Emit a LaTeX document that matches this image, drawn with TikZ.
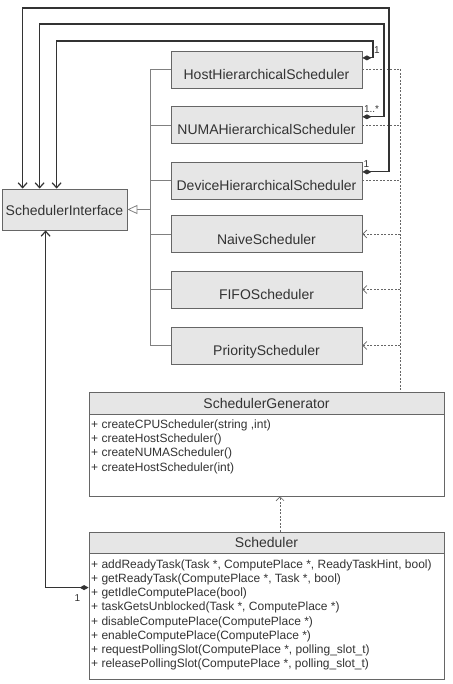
\documentclass[tikz,border=0pt]{standalone}
\usepackage{fontspec}
\setmainfont{Liberation Sans}
\usetikzlibrary{arrows.meta,calc}
\definecolor{boxfill}{HTML}{E6E6E6}
\definecolor{boxline}{HTML}{666666}
\definecolor{txt}{HTML}{333333}
\definecolor{assoc}{HTML}{333333}
\definecolor{treeline}{HTML}{808080}
\definecolor{dotline}{HTML}{666666}
\begin{document}
\begin{tikzpicture}[x=1pt,y=-1pt,
  every node/.style={text=txt},
  cls/.style={draw=boxline, fill=boxfill, line width=0.8pt, minimum width=191pt, minimum height=37pt,
    inner sep=0pt, text height=20pt, text depth=0pt, font=\fontsize{14}{16}\selectfont},
  hdr/.style={draw=boxline, fill=boxfill, line width=0.8pt, minimum width=355pt, inner sep=0pt,
    font=\fontsize{14}{16}\selectfont},
  body/.style={draw=boxline, fill=white, line width=0.8pt, minimum width=355pt, inner sep=0pt},
  meth/.style={anchor=west, inner sep=0pt, text height=9pt, text depth=3pt, font=\fontsize{12}{14}\selectfont},
  mult/.style={inner sep=0pt, font=\fontsize{10}{12}\selectfont},
  assocline/.style={draw=assoc, line width=1.2pt},
  treel/.style={draw=treeline, line width=0.8pt},
  dotl/.style={draw=dotline, line width=0.6pt, dash pattern=on 2pt off 1.5pt},
  dia/.style={{Diamond[length=9pt,width=5pt]}-{Straight Barb[length=5pt,width=9pt]}},
  openhead/.style={-{Straight Barb[length=4pt,width=8pt]}},
  gen/.style={-{Triangle[open,fill=white,length=10pt,width=9pt]}}
]
\useasboundingbox (0,0) rectangle (452,684);

% interface
\node[draw=boxline, fill=boxfill, line width=0.8pt, minimum width=125pt, minimum height=41pt, inner sep=0pt,
  font=\fontsize{14}{16}\selectfont, text height=13pt, text depth=0pt] (si) at (64.5,209.5) {SchedulerInterface};

% implementations
\node[cls] (host)   at (266.5,69.5)  {HostHierarchicalScheduler};
\node[cls] (numa)   at (266.5,125)   {NUMAHierarchicalScheduler};
\node[cls] (device) at (266.5,180.5) {DeviceHierarchicalScheduler};
\node[cls] (naive)  at (266.5,234)   {NaiveScheduler};
\node[cls] (fifo)   at (266.5,289.5) {FIFOScheduler};
\node[cls] (prio)   at (266.5,345.5) {PriorityScheduler};

% generator
\node[hdr, minimum height=22pt] (genh) at (266.5,403) {SchedulerGenerator};
\node[body, minimum height=82pt] (genb) at (266.5,455) {};
\foreach \t [count=\i] in {{+ createCPUScheduler(string ,int)},{+ createHostScheduler()},{+ createNUMAScheduler()},{+ createHostScheduler(int)}}
  \node[meth] (gm\i) at (91,{425+14.4*(\i-1)}) {\t};

% scheduler
\node[hdr, minimum height=21pt] (schh) at (266.5,542.5) {Scheduler};
\node[body, minimum height=126pt] (schb) at (266.5,616) {};
\foreach \t [count=\i] in {{+ addReadyTask(Task *, ComputePlace *, ReadyTaskHint, bool)},
  {+ getReadyTask(ComputePlace *, Task *, bool)},
  {+ getIdleComputePlace(bool)},
  {+ taskGetsUnblocked(Task *, ComputePlace *)},
  {+ disableComputePlace(ComputePlace *)},
  {+ enableComputePlace(ComputePlace *)},
  {+ requestPollingSlot(ComputePlace *, polling\_slot\_t)},
  {+ releasePollingSlot(ComputePlace *, polling\_slot\_t)}}
  \node[meth] (sm\i) at (91,{565+14.25*(\i-1)}) {\t};

% generalization tree
\coordinate (tx) at (150,0);
\foreach \b in {host,numa,device,naive,fifo,prio}
  \draw[treel] (\b.west) -- (\b.west -| tx);
\draw[treel] (host.west -| tx) -- (prio.west -| tx);
\draw[treel,gen] (si.east -| tx) -- (si.east);

% dotted realization lines
\coordinate (dx) at (400,0);
\foreach \b in {host,numa,device}
  \draw[dotl] (\b.east) -- (\b.east -| dx);
\foreach \b in {naive,fifo,prio}
  \draw[dotl,openhead] (\b.east -| dx) -- (\b.east);
\draw[dotl] (host.east -| dx) -- (genh.north -| dx);
\draw[dotl,openhead] (schh.north -| 280,0) -- (genb.south -| 280,0);

% associations
\coordinate (hd) at ($(host.north east)+(0,7.3)$);
\coordinate (nd) at ($(numa.north east)+(0,10.7)$);
\coordinate (dd) at ($(device.north east)+(0,10.3)$);
\coordinate (si1) at ($(si.north west)+(21,0)$);
\coordinate (si2) at ($(si.north west)+(38,0)$);
\coordinate (si3) at ($(si.north west)+(55,0)$);
\coordinate (si4) at ($(si.south west)+(44,0)$);
\coordinate (sd) at ($(schb.north west)+(0,35)$);
\draw[assocline,dia] (hd) -| (373,41) -| (si3);
\draw[assocline,dia] (nd) -| (384,24) -| (si2);
\draw[assocline,dia] (dd) -| (389,8) -| (si1);
\draw[assocline,dia] (sd) -| (si4);

% multiplicities
\node[mult] (m1) at (377,50.5) {1};
\node[mult] (m2) at (371.5,109) {1..*};
\node[mult] (m3) at (366.5,164) {1};
\node[mult] (m4) at (77.5,598) {1};
\end{tikzpicture}
\end{document}
